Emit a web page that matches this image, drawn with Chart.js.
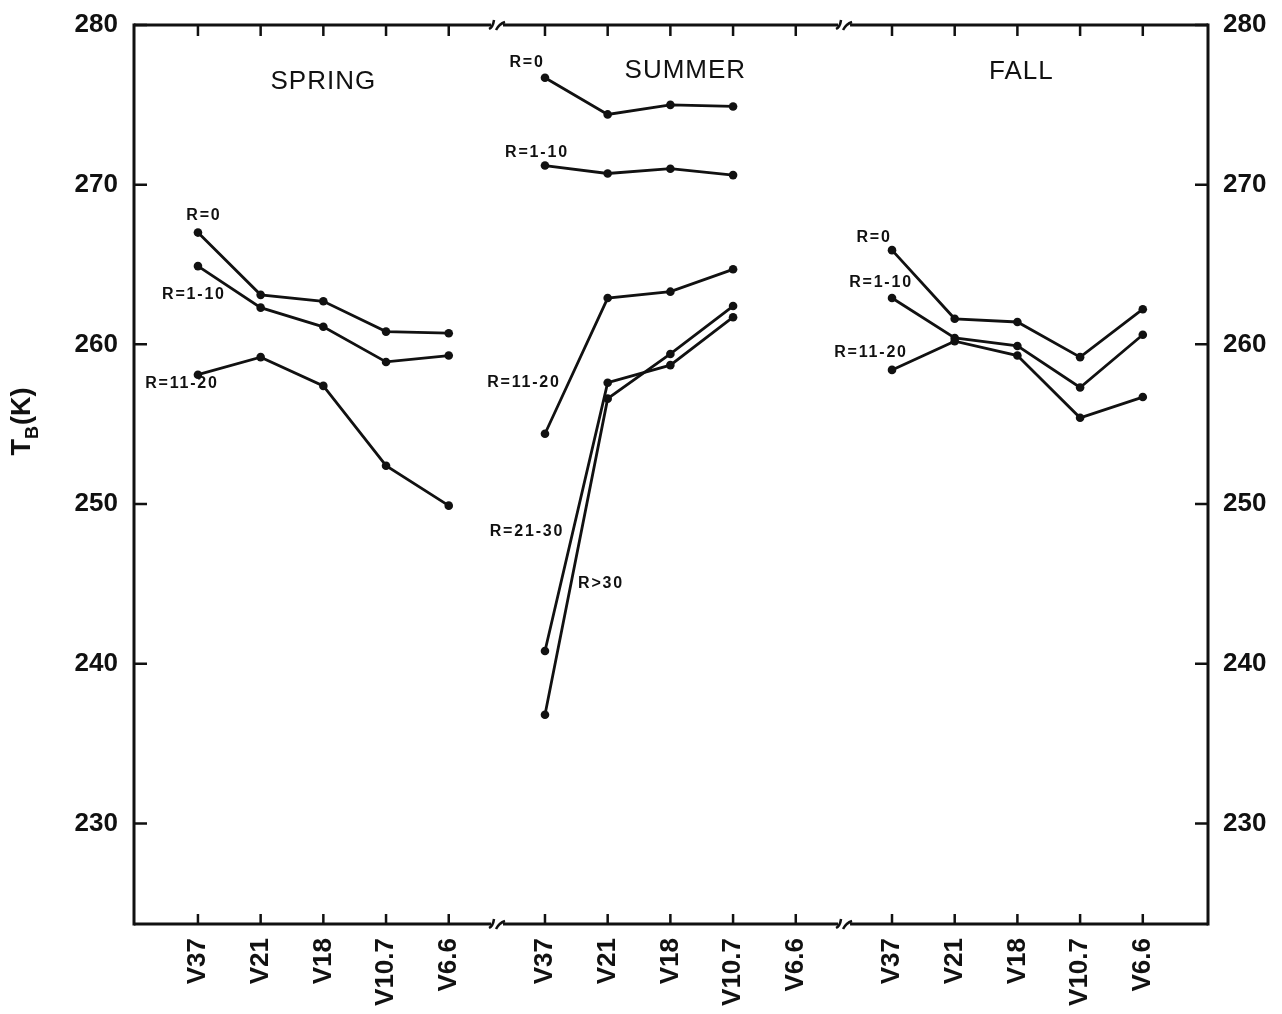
<!DOCTYPE html>
<html>
<head>
<meta charset="utf-8">
<script src="https://cdn.jsdelivr.net/npm/chart.js@4.4.1/dist/chart.umd.min.js"></script>
<style>
  html, body { margin: 0; padding: 0; background: #fff; }
  #wrap { width: 1282px; height: 1014px; }
</style>
</head>
<body>
<div id="wrap"><canvas id="tbChart" width="1282" height="1014"></canvas></div>
<script>
// channels on the x axis, repeated for each season
const channels = ['V37', 'V21', 'V18', 'V10.7', 'V6.6'];
const seasons = ['SPRING', 'SUMMER', 'FALL'];
const yTicks = [230, 240, 250, 260, 270, 280];
const seriesLabels = ['R=0', 'R=1-10', 'R=11-20', 'R=21-30', 'R>30'];

// brightness temperatures (K)
const springR0     = [267.0, 263.1, 262.7, 260.8, 260.7];
const springR1_10  = [264.9, 262.3, 261.1, 258.9, 259.3];
const springR11_20 = [258.1, 259.2, 257.4, 252.4, 249.9];

const summerR0     = [276.7, 274.4, 275.0, 274.9, null];
const summerR1_10  = [271.2, 270.7, 271.0, 270.6, null];
const summerR11_20 = [254.4, 262.9, 263.3, 264.7, null];
const summerR21_30 = [240.8, 257.6, 258.7, 261.7, null];
const summerR30up  = [236.8, 256.6, 259.4, 262.4, null];

const fallR0     = [265.9, 261.6, 261.4, 259.2, 262.2];
const fallR1_10  = [262.9, 260.4, 259.9, 257.3, 260.6];
const fallR11_20 = [258.4, 260.2, 259.3, 255.4, 256.7];

const seasonSeries = [
  [springR0, springR1_10, springR11_20],
  [summerR0, summerR1_10, summerR11_20, summerR21_30, summerR30up],
  [fallR0, fallR1_10, fallR11_20]
];

// layout bits
const GROUP_STRIDE = 5.535;
const posOf = (s, c) => s * GROUP_STRIDE + c;
const FONT = '"Liberation Sans", Arial, Helvetica, sans-serif';
const INK = '#111';

// where each series name sits, pixel offset from that series' first point
const labelOffsets = [
  [[6, -17], [-4, 28], [-16, 9]],
  [[-18, -15], [-8, -13], [-21, -51], [-18, -119], [56, -131]],
  [[-18, -13], [-11, -15], [-21, -17]]
];
const titleOffsets = [[0, 57], [15, 46], [4, 47]];

const tickPositions = [];
seasons.forEach((s, si) => channels.forEach((c, ci) => tickPositions.push(posOf(si, ci))));
const breakPositions = [posOf(0, 4.77), posOf(1, 4.77)];

const datasets = [];
seasonSeries.forEach((list, si) => {
  list.forEach((vals, ri) => {
    datasets.push({
      label: seasons[si] + ' ' + seriesLabels[ri],
      data: vals.map((v, ci) => ({ x: posOf(si, ci), y: v })),
      borderColor: INK,
      backgroundColor: INK,
      borderWidth: 2.8,
      pointRadius: 4.3,
      pointBorderWidth: 0,
      tension: 0,
      spanGaps: false,
      seasonIdx: si,
      seriesIdx: ri
    });
  });
});

const decor = {
  id: 'decor',
  afterDraw(chart) {
    const ctx = chart.ctx;
    const ca = chart.chartArea;
    const xs = chart.scales.x, ys = chart.scales.y;
    ctx.save();
    ctx.strokeStyle = INK;
    ctx.fillStyle = INK;
    ctx.lineCap = 'butt';

    // frame, with gaps where the axis is broken
    ctx.lineWidth = 3;
    ctx.beginPath();
    ctx.moveTo(ca.left, ca.top - 1.5); ctx.lineTo(ca.left, ca.bottom + 1.5);
    ctx.moveTo(ca.right, ca.top - 1.5); ctx.lineTo(ca.right, ca.bottom + 1.5);
    ctx.stroke();
    const bx = breakPositions.map(v => xs.getPixelForValue(v));
    [ca.top, ca.bottom].forEach(yy => {
      let start = ca.left;
      ctx.beginPath();
      bx.forEach(b => {
        ctx.moveTo(start, yy); ctx.lineTo(b - 6, yy);
        start = b + 6;
      });
      ctx.moveTo(start, yy); ctx.lineTo(ca.right, yy);
      ctx.stroke();
      ctx.lineWidth = 2.5;
      bx.forEach(b => {
        ctx.beginPath();
        ctx.moveTo(b - 8, yy + 4); ctx.quadraticCurveTo(b - 4, yy + 2, b - 3, yy - 5);
        ctx.moveTo(b - 1, yy + 5); ctx.quadraticCurveTo(b + 2, yy - 1, b + 8, yy - 3);
        ctx.stroke();
      });
      ctx.lineWidth = 3;
    });

    // inward tick marks
    ctx.lineWidth = 2.5;
    ctx.beginPath();
    tickPositions.forEach(v => {
      const px = xs.getPixelForValue(v);
      ctx.moveTo(px, ca.top); ctx.lineTo(px, ca.top + 11);
      ctx.moveTo(px, ca.bottom); ctx.lineTo(px, ca.bottom - 10);
    });
    yTicks.forEach(v => {
      const py = ys.getPixelForValue(v);
      ctx.moveTo(ca.left, py); ctx.lineTo(ca.left + 13, py);
      ctx.moveTo(ca.right, py); ctx.lineTo(ca.right - 13, py);
    });
    ctx.stroke();

    // season titles
    ctx.textAlign = 'center';
    ctx.textBaseline = 'middle';
    ctx.font = '26px ' + FONT;
    ctx.letterSpacing = '1px';
    seasons.forEach((s, si) => {
      const px = xs.getPixelForValue(posOf(si, 2)) + titleOffsets[si][0];
      ctx.fillText(s, px, ca.top + titleOffsets[si][1]);
    });

    // series names next to their first point
    ctx.font = 'bold 16px ' + FONT;
    ctx.letterSpacing = '1.8px';
    chart.data.datasets.forEach(ds => {
      const p = ds.data[0];
      const off = labelOffsets[ds.seasonIdx][ds.seriesIdx];
      ctx.fillText(seriesLabels[ds.seriesIdx], xs.getPixelForValue(p.x) + off[0], ys.getPixelForValue(p.y) + off[1]);
    });
    ctx.letterSpacing = '0px';

    // y title T_B(K)
    ctx.translate(25, 422);
    ctx.rotate(-Math.PI / 2);
    ctx.textAlign = 'left';
    ctx.textBaseline = 'alphabetic';
    ctx.font = 'bold 27px ' + FONT;
    const wT = ctx.measureText('T').width;
    ctx.font = 'bold 18px ' + FONT;
    const wB = ctx.measureText('B').width;
    ctx.font = 'bold 27px ' + FONT;
    const wK = ctx.measureText('(K)').width;
    let x0 = -(wT + wB + wK) / 2;
    ctx.fillText('T', x0, 5);
    ctx.font = 'bold 18px ' + FONT;
    ctx.fillText('B', x0 + wT, 13);
    ctx.font = 'bold 27px ' + FONT;
    ctx.fillText('(K)', x0 + wT + wB + 1, 5);
    ctx.restore();
  }
};

new Chart(document.getElementById('tbChart'), {
  type: 'line',
  data: { datasets },
  options: {
    responsive: false,
    animation: false,
    devicePixelRatio: 1,
    layout: { padding: { top: 25, left: 0, right: 0, bottom: 0 } },
    plugins: { legend: { display: false }, tooltip: { enabled: false } },
    scales: {
      x: {
        type: 'linear',
        position: 'bottom',
        min: -1.02,
        max: 16.11,
        grid: { display: false, drawTicks: false },
        border: { display: false },
        afterBuildTicks: s => { s.ticks = tickPositions.map(v => ({ value: v })); },
        afterFit: s => { s.height = 90; },
        ticks: {
          autoSkip: false,
          minRotation: 90,
          maxRotation: 90,
          padding: 14,
          color: INK,
          font: { family: FONT, size: 26, weight: 'bold' },
          callback: (v, i) => channels[i % channels.length]
        }
      },
      y: {
        type: 'linear',
        position: 'left',
        min: 223.7,
        max: 280,
        grid: { display: false, drawTicks: false },
        border: { display: false },
        afterBuildTicks: s => { s.ticks = yTicks.map(v => ({ value: v })); },
        afterFit: s => { s.width = 134; },
        ticks: { padding: 16, color: INK, font: { family: FONT, size: 26, weight: 'bold', lineHeight: 0.5 } }
      },
      y2: {
        type: 'linear',
        position: 'right',
        min: 223.7,
        max: 280,
        grid: { display: false, drawTicks: false },
        border: { display: false },
        afterBuildTicks: s => { s.ticks = yTicks.map(v => ({ value: v })); },
        afterFit: s => { s.width = 74; },
        ticks: { padding: 15, color: INK, font: { family: FONT, size: 26, weight: 'bold', lineHeight: 0.5 } }
      }
    }
  },
  plugins: [decor]
});
</script>
</body>
</html>
